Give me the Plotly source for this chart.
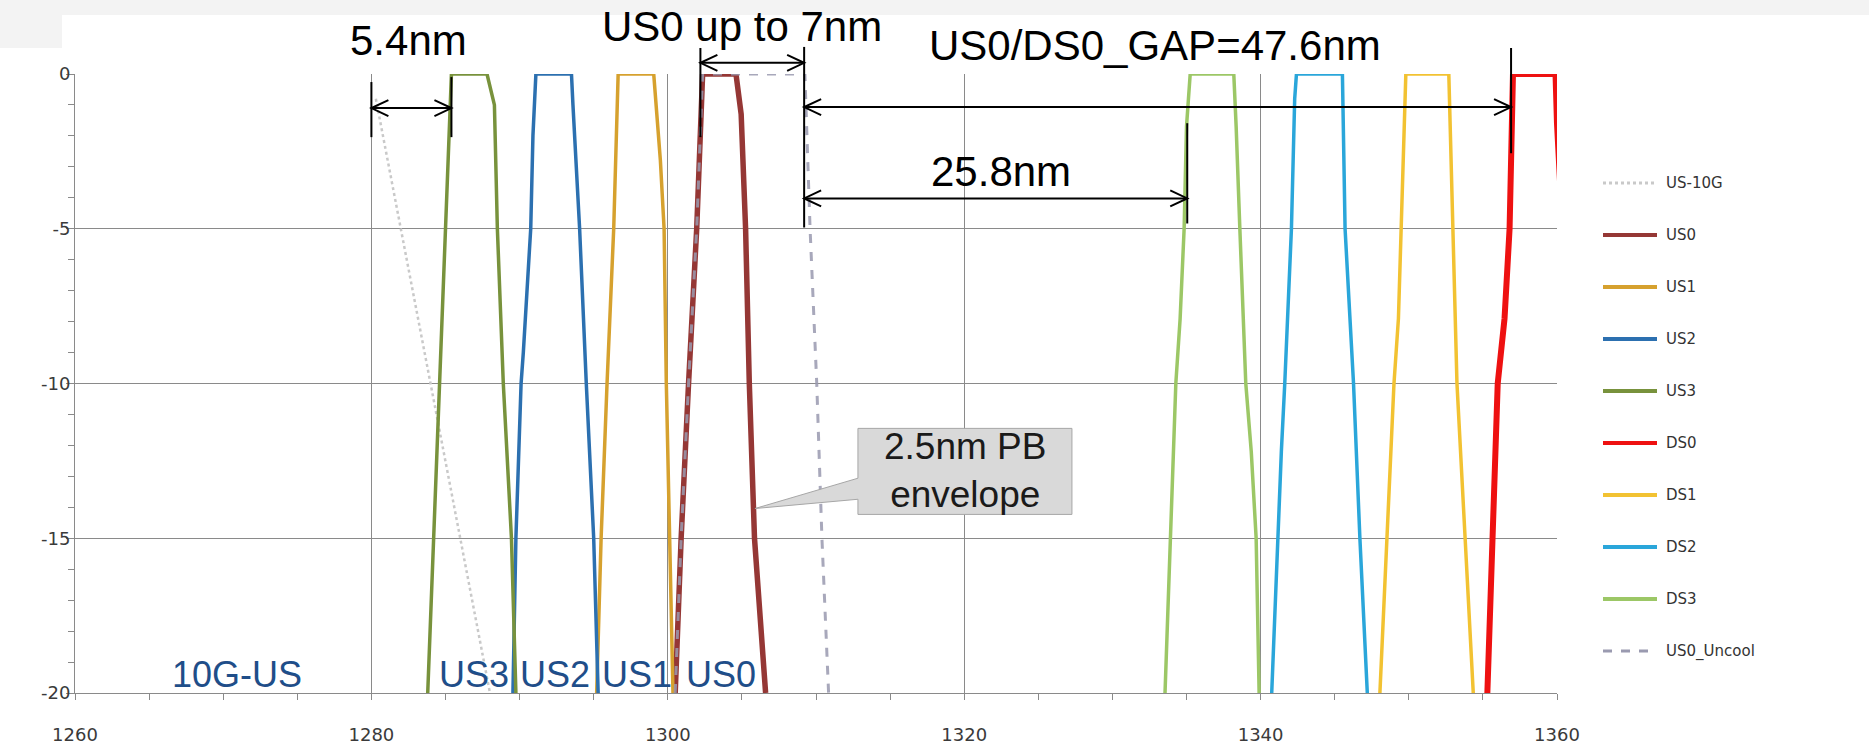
import plotly.graph_objects as go

# ---------------- figure geometry ----------------
W, H = 1869, 751
M_L, M_R, M_T, M_B = 75, 312, 74, 58
PLOT_W = W - M_L - M_R
PLOT_H = H - M_T - M_B

X_MIN, X_MAX = 1260, 1360
Y_MIN, Y_MAX = -20, 0

x_tick_vals = [1260, 1280, 1300, 1320, 1340, 1360]
x_tick_text = ["1260", "1280", "1300", "1320", "1340", "1360"]
y_tick_vals = [0, -5, -10, -15, -20]
y_tick_text = ["0", "-5", "-10", "-15", "-20"]

# ---------------- filter masks (wavelength nm, attenuation dB) ----------------
series_names = ["US-10G", "US0", "US1", "US2", "US3", "DS0", "DS1", "DS2", "DS3", "US0_Uncool"]

us10g_nm = [1280.3, 1288.0]
us10g_db = [-0.8, -20]

us0_nm = [1300.5, 1300.9, 1301.4, 1301.95, 1302.35, 1304.6, 1304.95, 1305.25, 1305.5, 1305.85, 1306.6]
us0_db = [-20, -15, -10, -5, 0, 0, -1.3, -5, -10, -15, -20]

us1_nm = [1295.2, 1295.5, 1295.9, 1296.35, 1296.65, 1299.05, 1299.5, 1299.75, 1299.9, 1300.1, 1300.35]
us1_db = [-20, -15, -10, -5, 0, 0, -2.8, -5, -10, -15, -20]

us2_nm = [1289.55, 1289.75, 1290.1, 1290.25, 1290.75, 1290.9, 1291.1, 1293.5, 1293.6, 1294.05, 1294.5, 1295.0, 1295.3]
us2_db = [-20, -15, -10, -9, -5, -2, 0, 0, -1, -5, -10, -15, -20]

us3_nm = [1283.8, 1284.2, 1284.65, 1285.05, 1285.4, 1287.8, 1288.3, 1288.5, 1288.9, 1289.45, 1289.75]
us3_db = [-20, -15, -10, -5, 0, 0, -1, -5, -10, -15, -20]

ds0_nm = [1355.3, 1355.4, 1355.67, 1356.0, 1356.46, 1356.8, 1357.03, 1359.9, 1360.0, 1362.0]
ds0_db = [-20, -18.7, -15, -10, -7.9, -5, 0, 0, -1.6, -20]

ds1_nm = [1348.05, 1348.55, 1349.0, 1349.3, 1349.5, 1349.8, 1352.7, 1352.95, 1353.25, 1353.8, 1354.35]
ds1_db = [-20, -15, -10, -7.9, -5, 0, 0, -5, -10, -15, -20]

ds2_nm = [1340.75, 1341.13, 1341.4, 1341.63, 1342.08, 1342.3, 1342.42, 1345.52, 1345.7, 1346.27, 1346.7, 1347.2]
ds2_db = [-20, -15, -12.2, -10, -5, -0.8, 0, 0, -5, -10, -15, -20]

ds3_nm = [1333.55, 1333.94, 1334.28, 1334.57, 1334.84, 1335.0, 1335.25, 1338.19, 1338.35, 1338.6, 1339.0, 1339.37, 1339.7, 1339.9]
ds3_db = [-20, -15, -10, -7.9, -5, -1.7, 0, 0, -1.7, -5, -10, -12.2, -15, -20]

uncool_nm = [1300.5, 1300.9, 1301.4, 1301.95, 1302.35, 1309.25, 1309.6, 1310.05, 1310.4, 1310.85]
uncool_db = [-20, -15, -10, -5, 0, 0, -5, -10, -15, -20]

series_x = [us10g_nm, us0_nm, us1_nm, us2_nm, us3_nm, ds0_nm, ds1_nm, ds2_nm, ds3_nm, uncool_nm]
series_y = [us10g_db, us0_db, us1_db, us2_db, us3_db, ds0_db, ds1_db, ds2_db, ds3_db, uncool_db]

series_colors = ["#C9C9C9", "#953735", "#D6A12E", "#2C70B0", "#78923C",
                 "#EE1111", "#F2C232", "#2AA6DA", "#9CC766", "#9A9AB0"]
series_widths = [2.5, 5.5, 3.5, 3.5, 3.5, 6, 3.5, 3.5, 3.5, 3]
series_dash = ["dot", "solid", "solid", "solid", "solid", "solid", "solid", "solid", "solid", "dash"]
series_opacity = [1, 1, 1, 1, 1, 1, 1, 1, 1, 0.85]

# band labels along the bottom
band_labels = ["10G-US", "US3", "US2", "US1", "US0"]
band_label_nm = [1270.9, 1286.9, 1292.4, 1297.9, 1303.6]
band_label_db = -19.4

# spacing markers
gap_5_4 = (1280.0, 1285.4)
gap_us0 = (1302.2, 1309.2)
gap_ds0 = (1309.2, 1356.9)
gap_ds3 = (1309.2, 1335.05)


def ypaper(db):
    return (db - Y_MIN) / (Y_MAX - Y_MIN)


def px_x(px):
    return (px - M_L) / PLOT_W


def px_y(py):
    return (H - M_B - py) / PLOT_H


fig = go.Figure()
for name, xs, ys, c, w, d, op in zip(series_names, series_x, series_y, series_colors,
                                      series_widths, series_dash, series_opacity):
    fig.add_trace(go.Scatter(x=xs, y=ys, mode="lines", name=name, opacity=op,
                             line=dict(color=c, width=w, dash=d), showlegend=False))

shapes = []
annotations = []

# faint slide background strips
shapes.append(dict(type="rect", xref="paper", yref="paper", layer="below",
                   x0=px_x(0), x1=px_x(W), y0=px_y(0), y1=px_y(15),
                   fillcolor="#F3F3F3", line=dict(width=0)))
shapes.append(dict(type="rect", xref="paper", yref="paper", layer="below",
                   x0=px_x(0), x1=px_x(62), y0=px_y(0), y1=px_y(48),
                   fillcolor="#F3F3F3", line=dict(width=0)))

BLACK = dict(color="black", width=2)


def vline(x, db0, db1):
    shapes.append(dict(type="line", xref="x", yref="paper", x0=x, x1=x,
                       y0=ypaper(db0), y1=ypaper(db1), line=BLACK))


def harrow(xa, xb, db, left=True, right=True):
    y = ypaper(db)
    shapes.append(dict(type="line", xref="x", yref="paper", x0=xa, x1=xb,
                       y0=y, y1=y, line=BLACK))
    dx = 17 * (X_MAX - X_MIN) / PLOT_W
    dy = 8 / PLOT_H
    if left:
        shapes.append(dict(type="path", xref="x", yref="paper", line=BLACK,
                           path=f"M {xa + dx},{y + dy} L {xa},{y} L {xa + dx},{y - dy}"))
    if right:
        shapes.append(dict(type="path", xref="x", yref="paper", line=BLACK,
                           path=f"M {xb - dx},{y + dy} L {xb},{y} L {xb - dx},{y - dy}"))


# 5.4 nm guard band
vline(gap_5_4[0], -0.26, -2.04)
vline(gap_5_4[1], -0.1, -2.04)
harrow(gap_5_4[0], gap_5_4[1], -1.1)

# US0 width
vline(gap_us0[0], 0.84, -2.04)
vline(gap_us0[1], 0.875, -4.96)
harrow(gap_us0[0], gap_us0[1], 0.36)

# US0 / DS0 gap
vline(gap_ds0[1], 0.84, -2.56)
harrow(gap_ds0[0], gap_ds0[1], -1.07)

# US0 / DS3 gap
vline(gap_ds3[1], -1.59, -4.83)
harrow(gap_ds3[0], gap_ds3[1], -4.02)

TXT = dict(family="Liberation Sans, Arial, sans-serif", size=42, color="black")


def label(text, x, db, font=TXT):
    annotations.append(dict(text=text, x=x, y=ypaper(db), xref="x", yref="paper",
                            showarrow=False, xanchor="center", yanchor="middle", font=font))


label("5.4nm", 1282.47, 1.07)
label("US0 up to 7nm", 1305.0, 1.55)
label("US0/DS0_GAP=47.6nm", 1332.9, 0.93)
label("25.8nm", 1322.5, -3.14)

BLUE_TXT = dict(family="Liberation Sans, Arial, sans-serif", size=36, color="#1F4E89")
for t, x in zip(band_labels, band_label_nm):
    label(t, x, band_label_db, BLUE_TXT)

# callout for the pass-band envelope
bx0, bx1, by0, by1 = 1312.83, 1327.27, -11.45, -14.23
tail_a, tail_b, tip = -13.06, -13.74, (1305.88, -14.04)
shapes.append(dict(type="path", xref="x", yref="y",
                   path=(f"M {bx0},{by0} L {bx1},{by0} L {bx1},{by1} L {bx0},{by1} "
                         f"L {bx0},{tail_b} L {tip[0]},{tip[1]} L {bx0},{tail_a} Z"),
                   fillcolor="#D9D9D9", line=dict(color="#A6A6A6", width=1)))
label("2.5nm PB<br>envelope", (bx0 + bx1) / 2, -12.8,
      dict(family="Liberation Sans, Arial, sans-serif", size=37, color="#1A1A1A"))

# legend
LEG_X0, LEG_X1, LEG_TX = 1603, 1657, 1664
LEG_Y0, LEG_DY = 183, 52
for i, (name, c, d) in enumerate(zip(series_names, series_colors, series_dash)):
    py = LEG_Y0 + LEG_DY * i
    lw = 3 if d != "solid" else 4
    shapes.append(dict(type="line", xref="paper", yref="paper",
                       x0=px_x(LEG_X0), x1=px_x(LEG_X1), y0=px_y(py), y1=px_y(py),
                       line=dict(color=c, width=lw, dash=d)))
    annotations.append(dict(text=name, x=px_x(LEG_TX), y=px_y(py), xref="paper", yref="paper",
                            showarrow=False, xanchor="left", yanchor="middle",
                            font=dict(family="DejaVu Sans, Verdana, sans-serif", size=15,
                                      color="#333333")))

GRID = "#8A8A8A"
fig.update_layout(
    width=W, height=H, autosize=False,
    margin=dict(l=M_L, r=M_R, t=M_T, b=M_B, autoexpand=False),
    paper_bgcolor="white", plot_bgcolor="white",
    showlegend=False,
    shapes=shapes, annotations=annotations,
    font=dict(family="DejaVu Sans, Verdana, sans-serif", size=18, color="#3A3A3A"),
    xaxis=dict(range=[X_MIN, X_MAX], tickvals=x_tick_vals, ticktext=x_tick_text,
               automargin=False,
               showgrid=True, gridcolor=GRID, gridwidth=1, zeroline=False,
               showline=True, linecolor=GRID, linewidth=1,
               ticks="outside", ticklen=6, tickcolor=GRID, ticklabelstandoff=19,
               minor=dict(dtick=5, ticks="outside", ticklen=6, tickcolor=GRID, showgrid=False)),
    yaxis=dict(range=[Y_MIN, Y_MAX], tickvals=y_tick_vals, ticktext=y_tick_text,
               automargin=False,
               showgrid=True, gridcolor=GRID, gridwidth=1, zeroline=False,
               showline=True, linecolor=GRID, linewidth=1,
               ticks="outside", ticklen=8, tickcolor=GRID, ticklabelstandoff=-8,
               minor=dict(dtick=1, ticks="outside", ticklen=6, tickcolor=GRID, showgrid=False)),
)

fig.write_html("out.html")
